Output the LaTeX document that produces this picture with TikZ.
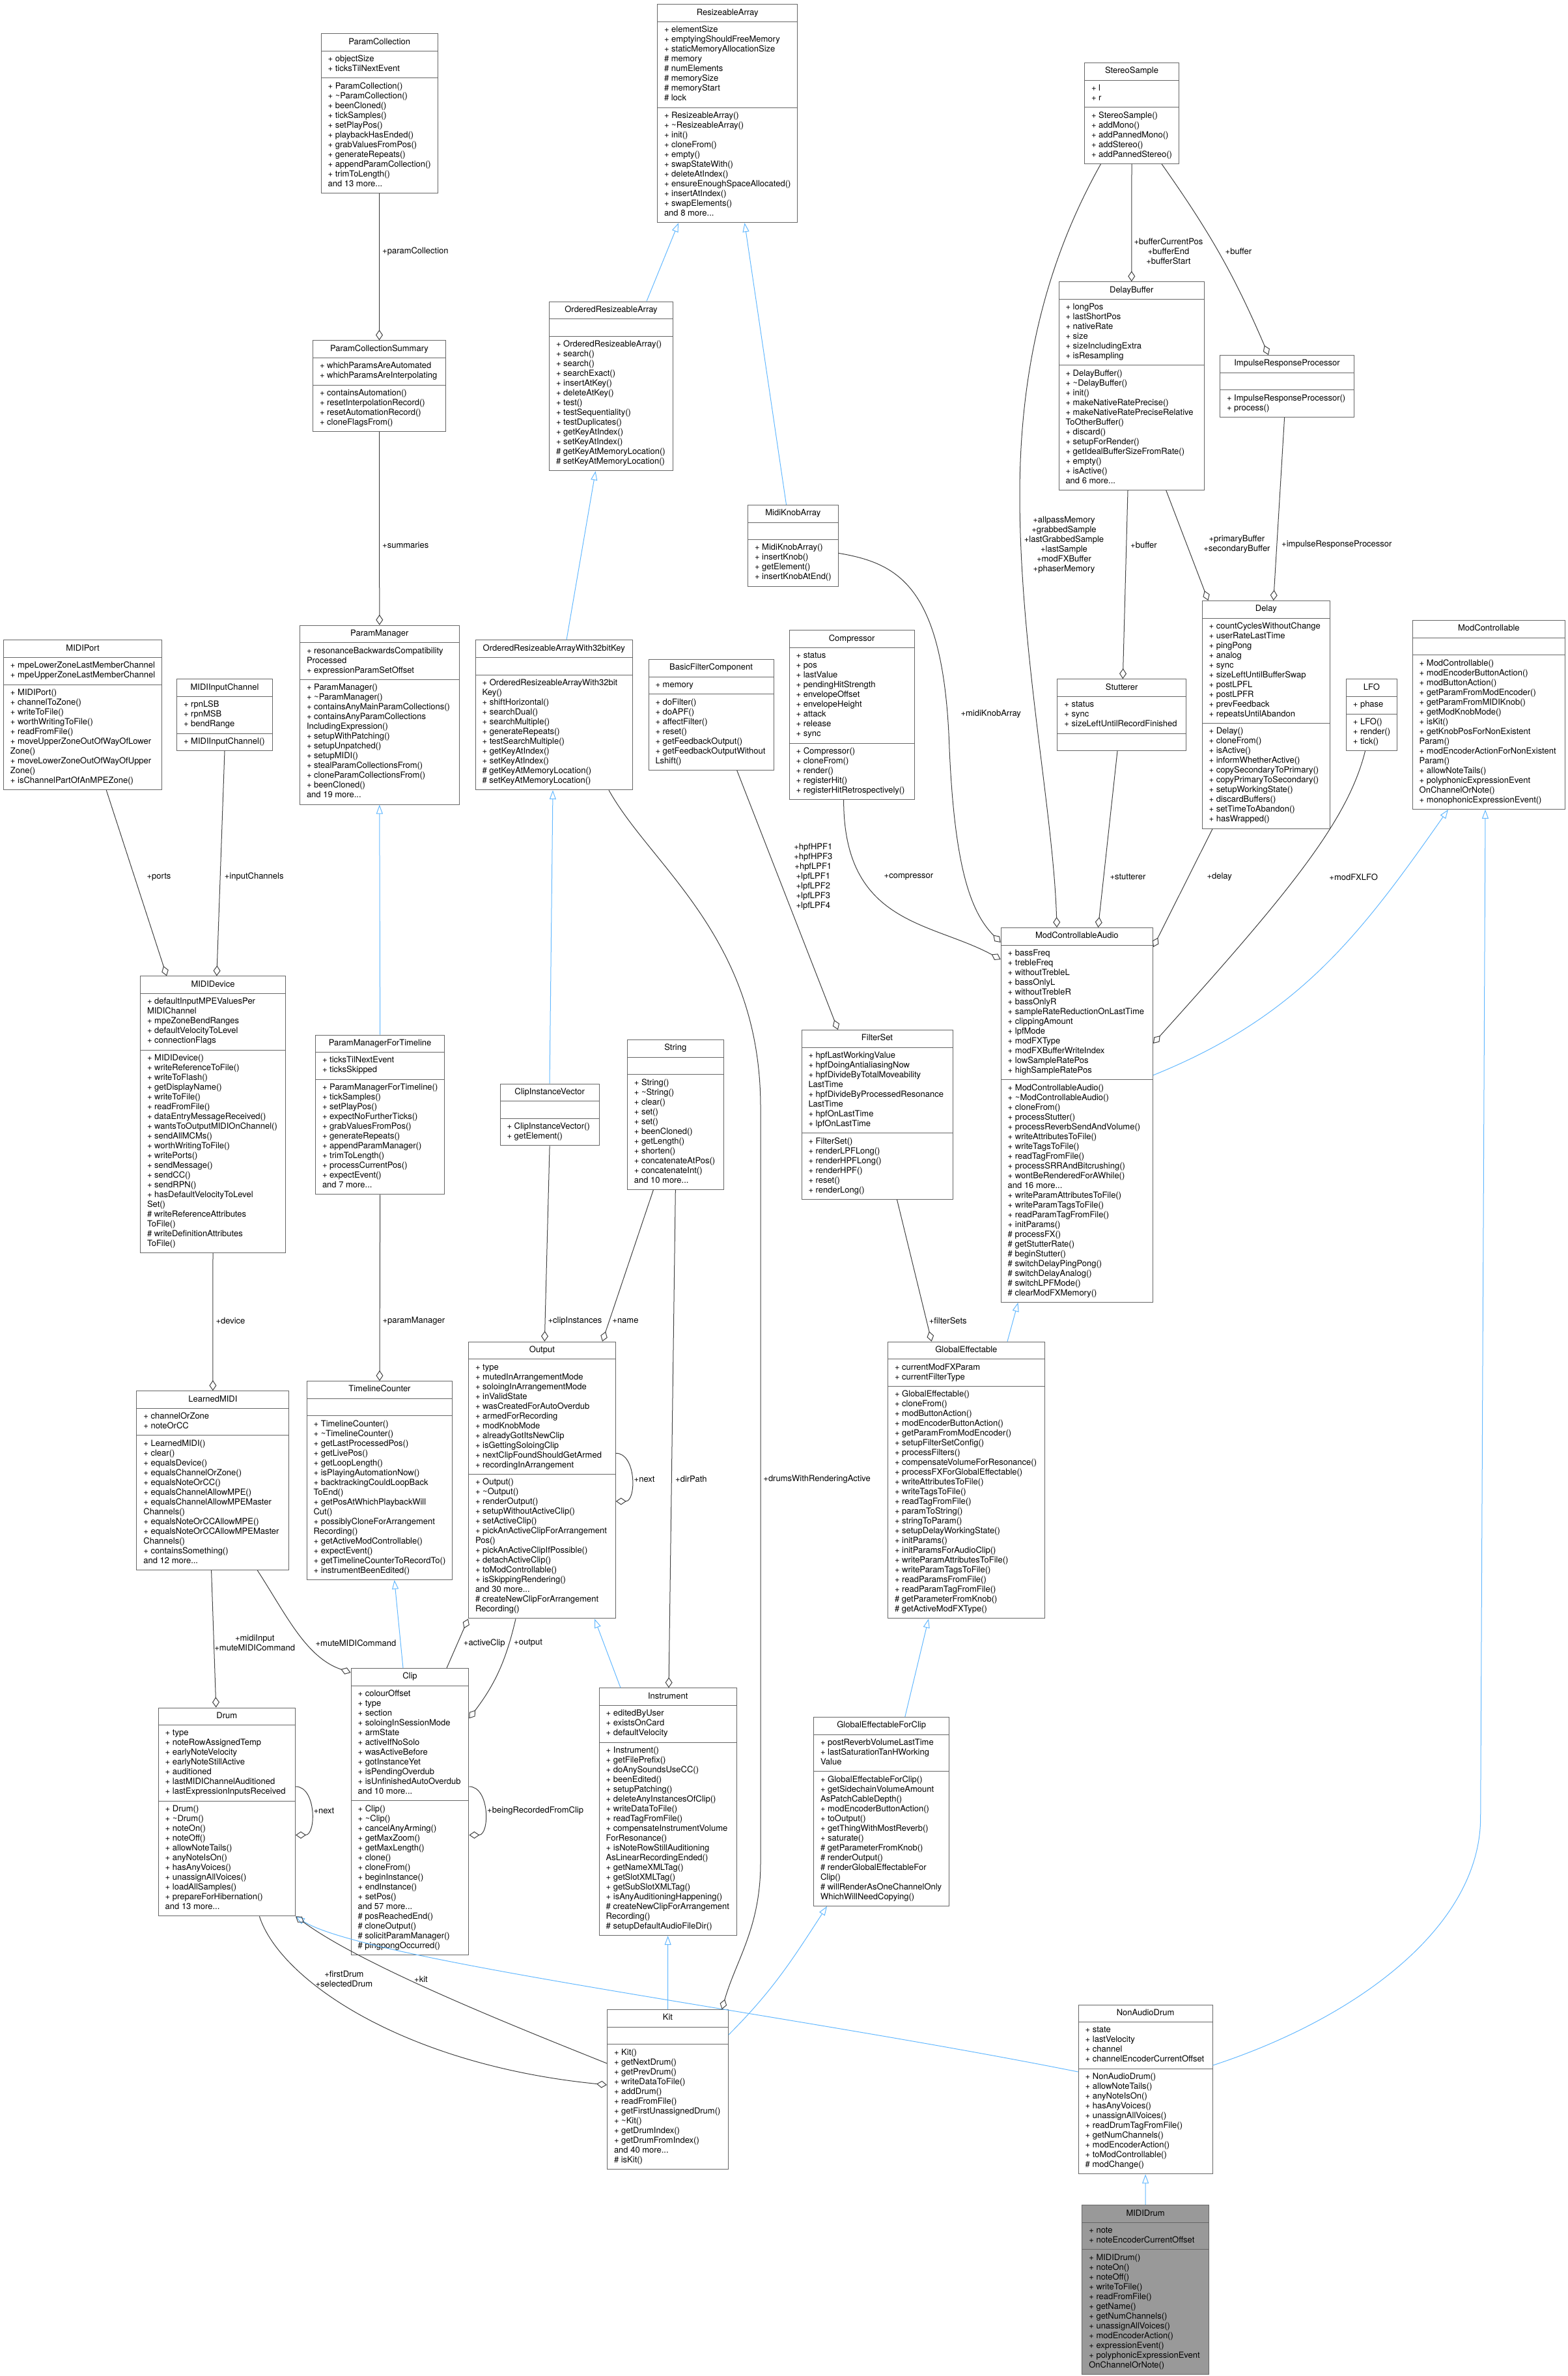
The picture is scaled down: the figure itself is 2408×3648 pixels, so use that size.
\documentclass[tikz,border=0pt]{standalone}
\usepackage{fontspec}
\setmainfont{TeX Gyre Heros}
\usetikzlibrary{shapes.multipart}
\usetikzlibrary{arrows.meta}
\definecolor{boxgray}{HTML}{666666}
\definecolor{edgegray}{HTML}{404040}
\definecolor{inheritblue}{HTML}{63B8FF}
\definecolor{curfill}{HTML}{999999}
\tikzset{
  cls/.style={rectangle split, rectangle split parts=3,
    rectangle split part align={center,left,left},
    draw=boxgray, fill=white, line width=1pt, anchor=north west,
    inner xsep=10.5pt, inner ysep=5.3pt, align=left,
    font=\fontsize{13}{15}\selectfont},
  assoc/.style={draw=edgegray, line width=1pt,
    -{Diamond[open,length=16pt,width=11pt]}},
  inherit/.style={draw=inheritblue, line width=1pt,
    -{Triangle[open,length=14pt,width=10pt]}},
  lbl/.style={font=\fontsize{13}{15}\selectfont, inner sep=0pt, align=center},
}
\begin{document}
\begin{tikzpicture}[x=1pt, y=1pt]
        \useasboundingbox (0,0) rectangle (2408,-3648);

        \node[cls, minimum width=215pt] (rArray) at (1009,-6.4) {\strut ResizeableArray\nodepart{two}\strut + elementSize\\+ emptyingShouldFreeMemory\\+ staticMemoryAllocationSize\\\# memory\\\# numElements\\\# memorySize\\\# memoryStart\\\# lock\strut\nodepart{three}\strut + ResizeableArray()\\+ \textasciitilde ResizeableArray()\\+ init()\\+ cloneFrom()\\+ empty()\\+ swapStateWith()\\+ deleteAtIndex()\\+ ensureEnoughSpaceAllocated()\\+ insertAtIndex()\\+ swapElements()\\and 8 more...\strut};
        \node[cls, minimum width=179.2pt] (pColl) at (492.6,-51.2) {\strut ParamCollection\nodepart{two}\strut + objectSize\\+ ticksTilNextEvent\strut\nodepart{three}\strut + ParamCollection()\\+ \textasciitilde ParamCollection()\\+ beenCloned()\\+ tickSamples()\\+ setPlayPos()\\+ playbackHasEnded()\\+ grabValuesFromPos()\\+ generateRepeats()\\+ appendParamCollection()\\+ trimToLength()\\and 13 more...\strut};
        \node[cls, minimum width=145pt] (stereo) at (1665,-96) {\strut StereoSample\nodepart{two}\strut + l\\+ r\strut\nodepart{three}\strut + StereoSample()\\+ addMono()\\+ addPannedMono()\\+ addStereo()\\+ addPannedStereo()\strut};
        \node[cls, minimum width=204pt] (pCollSum) at (480,-522.4) {\strut ParamCollectionSummary\nodepart{two}\strut + whichParamsAreAutomated\\+ whichParamsAreInterpolating\strut\nodepart{three}\strut + containsAutomation()\\+ resetInterpolationRecord()\\+ resetAutomationRecord()\\+ cloneFlagsFrom()\strut};
        \node[cls, minimum width=190pt] (oArray) at (843,-462.5) {\strut OrderedResizeableArray\nodepart{two}\strut\nodepart{three}\strut + OrderedResizeableArray()\\+ search()\\+ search()\\+ searchExact()\\+ insertAtKey()\\+ deleteAtKey()\\+ test()\\+ testSequentiality()\\+ testDuplicates()\\+ getKeyAtIndex()\\+ setKeyAtIndex()\\\# getKeyAtMemoryLocation()\\\# setKeyAtMemoryLocation()\strut};
        \node[cls, minimum width=138pt] (knobArray) at (1148,-774.9) {\strut MidiKnobArray\nodepart{two}\strut\nodepart{three}\strut + MidiKnobArray()\\+ insertKnob()\\+ getElement()\\+ insertKnobAtEnd()\strut};
        \node[cls, minimum width=223.5pt] (dBuffer) at (1625.5,-432.2) {\strut DelayBuffer\nodepart{two}\strut + longPos\\+ lastShortPos\\+ nativeRate\\+ size\\+ sizeIncludingExtra\\+ isResampling\strut\nodepart{three}\strut + DelayBuffer()\\+ \textasciitilde DelayBuffer()\\+ init()\\+ makeNativeRatePrecise()\\+ makeNativeRatePreciseRelative\\ToOtherBuffer()\\+ discard()\\+ setupForRender()\\+ getIdealBufferSizeFromRate()\\+ empty()\\+ isActive()\\and 6 more...\strut};
        \node[cls, minimum width=206pt] (irProc) at (1873,-545) {\strut ImpulseResponseProcessor\nodepart{two}\strut\nodepart{three}\strut + ImpulseResponseProcessor()\\+ process()\strut};
        \node[cls, minimum width=196.4pt] (delay) at (1845.6,-921.9) {\strut Delay\nodepart{two}\strut + countCyclesWithoutChange\\+ userRateLastTime\\+ pingPong\\+ analog\\+ sync\\+ sizeLeftUntilBufferSwap\\+ postLPFL\\+ postLPFR\\+ prevFeedback\\+ repeatsUntilAbandon\strut\nodepart{three}\strut + Delay()\\+ cloneFrom()\\+ isActive()\\+ informWhetherActive()\\+ copySecondaryToPrimary()\\+ copyPrimaryToSecondary()\\+ setupWorkingState()\\+ discardBuffers()\\+ setTimeToAbandon()\\+ hasWrapped()\strut};
        \node[cls, minimum width=244.6pt] (pManager) at (460,-959.7) {\strut ParamManager\nodepart{two}\strut + resonanceBackwardsCompatibility\\Processed\\+ expressionParamSetOffset\strut\nodepart{three}\strut + ParamManager()\\+ \textasciitilde ParamManager()\\+ containsAnyMainParamCollections()\\+ containsAnyParamCollections\\IncludingExpression()\\+ setupWithPatching()\\+ setupUnpatched()\\+ setupMIDI()\\+ stealParamCollectionsFrom()\\+ cloneParamCollectionsFrom()\\+ beenCloned()\\and 19 more...\strut};
        \node[cls, minimum width=192pt] (compressor) at (1211.6,-967.3) {\strut Compressor\nodepart{two}\strut + status\\+ pos\\+ lastValue\\+ pendingHitStrength\\+ envelopeOffset\\+ envelopeHeight\\+ attack\\+ release\\+ sync\strut\nodepart{three}\strut + Compressor()\\+ cloneFrom()\\+ render()\\+ registerHit()\\+ registerHitRetrospectively()\strut};
        \node[cls, minimum width=234.3pt] (modCtrl) at (2168.7,-952.1) {\strut ModControllable\nodepart{two}\strut\nodepart{three}\strut + ModControllable()\\+ modEncoderButtonAction()\\+ modButtonAction()\\+ getParamFromModEncoder()\\+ getParamFromMIDIKnob()\\+ getModKnobMode()\\+ isKit()\\+ getKnobPosForNonExistent\\Param()\\+ modEncoderActionForNonExistent\\Param()\\+ allowNoteTails()\\+ polyphonicExpressionEvent\\OnChannelOrNote()\\+ monophonicExpressionEvent()\strut};
        \node[cls, minimum width=242pt] (midiPort) at (5,-982.4) {\strut MIDIPort\nodepart{two}\strut + mpeLowerZoneLastMemberChannel\\+ mpeUpperZoneLastMemberChannel\strut\nodepart{three}\strut + MIDIPort()\\+ channelToZone()\\+ writeToFile()\\+ worthWritingToFile()\\+ readFromFile()\\+ moveUpperZoneOutOfWayOfLower\\Zone()\\+ moveLowerZoneOutOfWayOfUpper\\Zone()\\+ isChannelPartOfAnMPEZone()\strut};
        \node[cls, minimum width=241.4pt] (oArray32) at (729.6,-982.4) {\strut OrderedResizeableArrayWith32bitKey\nodepart{two}\strut\nodepart{three}\strut + OrderedResizeableArrayWith32bit\\Key()\\+ shiftHorizontal()\\+ searchDual()\\+ searchMultiple()\\+ generateRepeats()\\+ testSearchMultiple()\\+ getKeyAtIndex()\\+ setKeyAtIndex()\\\# getKeyAtMemoryLocation()\\\# setKeyAtMemoryLocation()\strut};
        \node[cls, minimum width=192pt] (bFilter) at (995.5,-1012) {\strut BasicFilterComponent\nodepart{two}\strut + memory\strut\nodepart{three}\strut + doFilter()\\+ doAPF()\\+ affectFilter()\\+ reset()\\+ getFeedbackOutput()\\+ getFeedbackOutputWithout\\Lshift()\strut};
        \node[cls, minimum width=147pt] (inChannel) at (271,-1042.3) {\strut MIDIInputChannel\nodepart{two}\strut + rpnLSB\\+ rpnMSB\\+ bendRange\strut\nodepart{three}\strut + MIDIInputChannel()\strut};
        \node[cls, minimum width=197.6pt] (stutterer) at (1623.4,-1042.3) {\strut Stutterer\nodepart{two}\strut + status\\+ sync\\+ sizeLeftUntilRecordFinished\strut\nodepart{three}\strut};
        \node[cls, minimum width=78pt] (lfo) at (2066.8,-1042.3) {\strut LFO\nodepart{two}\strut + phase\strut\nodepart{three}\strut + LFO()\\+ render()\\+ tick()\strut};
        \node[cls, minimum width=233.3pt] (mcAudio) at (1536.7,-1424) {\strut ModControllableAudio\nodepart{two}\strut + bassFreq\\+ trebleFreq\\+ withoutTrebleL\\+ bassOnlyL\\+ withoutTrebleR\\+ bassOnlyR\\+ sampleRateReductionOnLastTime\\+ clippingAmount\\+ lpfMode\\+ modFXType\\+ modFXBufferWriteIndex\\+ lowSampleRatePos\\+ highSampleRatePos\strut\nodepart{three}\strut + ModControllableAudio()\\+ \textasciitilde ModControllableAudio()\\+ cloneFrom()\\+ processStutter()\\+ processReverbSendAndVolume()\\+ writeAttributesToFile()\\+ writeTagsToFile()\\+ readTagFromFile()\\+ processSRRAndBitcrushing()\\+ wontBeRenderedForAWhile()\\and 16 more...\\+ writeParamAttributesToFile()\\+ writeParamTagsToFile()\\+ readParamTagFromFile()\\+ initParams()\\\# processFX()\\\# getStutterRate()\\\# beginStutter()\\\# switchDelayPingPong()\\\# switchDelayAnalog()\\\# switchLPFMode()\\\# clearModFXMemory()\strut};
        \node[cls, minimum width=223pt] (midiDevice) at (215,-1498.4) {\strut MIDIDevice\nodepart{two}\strut + defaultInputMPEValuesPer\\MIDIChannel\\+ mpeZoneBendRanges\\+ defaultVelocityToLevel\\+ connectionFlags\strut\nodepart{three}\strut + MIDIDevice()\\+ writeReferenceToFile()\\+ writeToFlash()\\+ getDisplayName()\\+ writeToFile()\\+ readFromFile()\\+ dataEntryMessageReceived()\\+ wantsToOutputMIDIOnChannel()\\+ sendAllMCMs()\\+ worthWritingToFile()\\+ writePorts()\\+ sendMessage()\\+ sendCC()\\+ sendRPN()\\+ hasDefaultVelocityToLevel\\Set()\\\# writeReferenceAttributes\\ToFile()\\\# writeDefinitionAttributes\\ToFile()\strut};
        \node[cls, minimum width=232pt] (filterSet) at (1230.5,-1581) {\strut FilterSet\nodepart{two}\strut + hpfLastWorkingValue\\+ hpfDoingAntialiasingNow\\+ hpfDivideByTotalMoveability\\LastTime\\+ hpfDivideByProcessedResonance\\LastTime\\+ hpfOnLastTime\\+ lpfOnLastTime\strut\nodepart{three}\strut + FilterSet()\\+ renderLPFLong()\\+ renderHPFLong()\\+ renderHPF()\\+ reset()\\+ renderLong()\strut};
        \node[cls, minimum width=197pt] (pmTimeline) at (484,-1588.5) {\strut ParamManagerForTimeline\nodepart{two}\strut + ticksTilNextEvent\\+ ticksSkipped\strut\nodepart{three}\strut + ParamManagerForTimeline()\\+ tickSamples()\\+ setPlayPos()\\+ expectNoFurtherTicks()\\+ grabValuesFromPos()\\+ generateRepeats()\\+ appendParamManager()\\+ trimToLength()\\+ processCurrentPos()\\+ expectEvent()\\and 7 more...\strut};
        \node[cls, minimum width=148pt] (string) at (962.8,-1596) {\strut String\nodepart{two}\strut\nodepart{three}\strut + String()\\+ \textasciitilde String()\\+ clear()\\+ set()\\+ set()\\+ beenCloned()\\+ getLength()\\+ shorten()\\+ concatenateAtPos()\\+ concatenateInt()\\and 10 more...\strut};
        \node[cls, minimum width=152.2pt] (clipVector) at (767.5,-1663.6) {\strut ClipInstanceVector\nodepart{two}\strut\nodepart{three}\strut + ClipInstanceVector()\\+ getElement()\strut};
        \node[cls, minimum width=225.8pt] (output) at (719,-2059.6) {\strut Output\nodepart{two}\strut + type\\+ mutedInArrangementMode\\+ soloingInArrangementMode\\+ inValidState\\+ wasCreatedForAutoOverdub\\+ armedForRecording\\+ modKnobMode\\+ alreadyGotItsNewClip\\+ isGettingSoloingClip\\+ nextClipFoundShouldGetArmed\\+ recordingInArrangement\strut\nodepart{three}\strut + Output()\\+ \textasciitilde Output()\\+ renderOutput()\\+ setupWithoutActiveClip()\\+ setActiveClip()\\+ pickAnActiveClipForArrangement\\Pos()\\+ pickAnActiveClipIfPossible()\\+ detachActiveClip()\\+ toModControllable()\\+ isSkippingRendering()\\and 30 more...\\\# createNewClipForArrangement\\Recording()\strut};
        \node[cls, minimum width=240.8pt] (gEffectable) at (1363,-2059.6) {\strut GlobalEffectable\nodepart{two}\strut + currentModFXParam\\+ currentFilterType\strut\nodepart{three}\strut + GlobalEffectable()\\+ cloneFrom()\\+ modButtonAction()\\+ modEncoderButtonAction()\\+ getParamFromModEncoder()\\+ setupFilterSetConfig()\\+ processFilters()\\+ compensateVolumeForResonance()\\+ processFXForGlobalEffectable()\\+ writeAttributesToFile()\\+ writeTagsToFile()\\+ readTagFromFile()\\+ paramToString()\\+ stringToParam()\\+ setupDelayWorkingState()\\+ initParams()\\+ initParamsForAudioClip()\\+ writeParamAttributesToFile()\\+ writeParamTagsToFile()\\+ readParamsFromFile()\\+ readParamTagFromFile()\\\# getParameterFromKnob()\\\# getActiveModFXType()\strut};
        \node[cls, minimum width=223.7pt] (tCounter) at (470.6,-2120.1) {\strut TimelineCounter\nodepart{two}\strut\nodepart{three}\strut + TimelineCounter()\\+ \textasciitilde TimelineCounter()\\+ getLastProcessedPos()\\+ getLivePos()\\+ getLoopLength()\\+ isPlayingAutomationNow()\\+ backtrackingCouldLoopBack\\ToEnd()\\+ getPosAtWhichPlaybackWill\\Cut()\\+ possiblyCloneForArrangement\\Recording()\\+ getActiveModControllable()\\+ expectEvent()\\+ getTimelineCounterToRecordTo()\\+ instrumentBeenEdited()\strut};
        \node[cls, minimum width=234pt] (learnedMidi) at (209.4,-2135.2) {\strut LearnedMIDI\nodepart{two}\strut + channelOrZone\\+ noteOrCC\strut\nodepart{three}\strut + LearnedMIDI()\\+ clear()\\+ equalsDevice()\\+ equalsChannelOrZone()\\+ equalsNoteOrCC()\\+ equalsChannelAllowMPE()\\+ equalsChannelAllowMPEMaster\\Channels()\\+ equalsNoteOrCCAllowMPE()\\+ equalsNoteOrCCAllowMPEMaster\\Channels()\\+ containsSomething()\\and 12 more...\strut};
        \node[cls, minimum width=180.8pt] (clip) at (538.6,-2561) {\strut Clip\nodepart{two}\strut + colourOffset\\+ type\\+ section\\+ soloingInSessionMode\\+ armState\\+ activeIfNoSolo\\+ wasActiveBefore\\+ gotInstanceYet\\+ isPendingOverdub\\+ isUnfinishedAutoOverdub\\and 10 more...\strut\nodepart{three}\strut + Clip()\\+ \textasciitilde Clip()\\+ cancelAnyArming()\\+ getMaxZoom()\\+ getMaxLength()\\+ clone()\\+ cloneFrom()\\+ beginInstance()\\+ endInstance()\\+ setPos()\\and 57 more...\\\# posReachedEnd()\\\# cloneOutput()\\\# solicitParamManager()\\\# pingpongOccurred()\strut};
        \node[cls, minimum width=211pt] (instrument) at (919.7,-2591.3) {\strut Instrument\nodepart{two}\strut + editedByUser\\+ existsOnCard\\+ defaultVelocity\strut\nodepart{three}\strut + Instrument()\\+ getFilePrefix()\\+ doAnySoundsUseCC()\\+ beenEdited()\\+ setupPatching()\\+ deleteAnyInstancesOfClip()\\+ writeDataToFile()\\+ readTagFromFile()\\+ compensateInstrumentVolume\\ForResonance()\\+ isNoteRowStillAuditioning\\AsLinearRecordingEnded()\\+ getNameXMLTag()\\+ getSlotXMLTag()\\+ getSubSlotXMLTag()\\+ isAnyAuditioningHappening()\\\# createNewClipForArrangement\\Recording()\\\# setupDefaultAudioFileDir()\strut};
        \node[cls, minimum width=210.3pt] (drum) at (242.7,-2621.5) {\strut Drum\nodepart{two}\strut + type\\+ noteRowAssignedTemp\\+ earlyNoteVelocity\\+ earlyNoteStillActive\\+ auditioned\\+ lastMIDIChannelAuditioned\\+ lastExpressionInputsReceived\strut\nodepart{three}\strut + Drum()\\+ \textasciitilde Drum()\\+ noteOn()\\+ noteOff()\\+ allowNoteTails()\\+ anyNoteIsOn()\\+ hasAnyVoices()\\+ unassignAllVoices()\\+ loadAllSamples()\\+ prepareForHibernation()\\and 13 more...\strut};
        \node[cls, minimum width=208.4pt] (gefClip) at (1249,-2636) {\strut GlobalEffectableForClip\nodepart{two}\strut + postReverbVolumeLastTime\\+ lastSaturationTanHWorking\\Value\strut\nodepart{three}\strut + GlobalEffectableForClip()\\+ getSidechainVolumeAmount\\AsPatchCableDepth()\\+ modEncoderButtonAction()\\+ toOutput()\\+ getThingWithMostReverb()\\+ saturate()\\\# getParameterFromKnob()\\\# renderOutput()\\\# renderGlobalEffectableFor\\Clip()\\\# willRenderAsOneChannelOnly\\WhichWillNeedCopying()\strut};
        \node[cls, minimum width=186pt] (kit) at (932,-3085) {\strut Kit\nodepart{two}\strut\nodepart{three}\strut + Kit()\\+ getNextDrum()\\+ getPrevDrum()\\+ writeDataToFile()\\+ addDrum()\\+ readFromFile()\\+ getFirstUnassignedDrum()\\+ \textasciitilde Kit()\\+ getDrumIndex()\\+ getDrumFromIndex()\\and 40 more...\\\# isKit()\strut};
        \node[cls, minimum width=205.8pt] (nonAudio) at (1655.7,-3077.5) {\strut NonAudioDrum\nodepart{two}\strut + state\\+ lastVelocity\\+ channel\\+ channelEncoderCurrentOffset\strut\nodepart{three}\strut + NonAudioDrum()\\+ allowNoteTails()\\+ anyNoteIsOn()\\+ hasAnyVoices()\\+ unassignAllVoices()\\+ readDrumTagFromFile()\\+ getNumChannels()\\+ modEncoderAction()\\+ toModControllable()\\\# modChange()\strut};
        \node[cls, fill=curfill, minimum width=194.6pt] (midiDrum) at (1661.3,-3385.2) {\strut MIDIDrum\nodepart{two}\strut + note\\+ noteEncoderCurrentOffset\strut\nodepart{three}\strut + MIDIDrum()\\+ noteOn()\\+ noteOff()\\+ writeToFile()\\+ readFromFile()\\+ getName()\\+ getNumChannels()\\+ unassignAllVoices()\\+ modEncoderAction()\\+ expressionEvent()\\+ polyphonicExpressionEvent\\OnChannelOrNote()\strut};

        \draw[inherit] ([xshift=150pt]oArray.north west) to ([xshift=33pt]rArray.south west);
        \draw[inherit] ([xshift=59.5pt]knobArray.north west) to ([xshift=134.5pt]rArray.south west);
        \draw[inherit] ([xshift=140.4pt]oArray32.north west) to ([xshift=71.6pt]oArray.south west);
        \draw[inherit] ([xshift=76.5pt]clipVector.north west) to ([xshift=119.4pt]oArray32.south west);
        \draw[inherit] (pmTimeline.north) to (pManager.south);
        \draw[inherit] ([xshift=80.4pt]clip.north west) to ([xshift=135.1pt]tCounter.south west);
        \draw[inherit] ([xshift=33.3pt]instrument.north west) to ([xshift=194pt]output.south west);
        \draw[inherit] (kit.north) to (instrument.south);
        \draw[inherit] ([yshift=-39pt]kit.north east) to[out=45, in=-123] ([xshift=21pt]gefClip.south west);
        \draw[inherit] ([xshift=140.8pt]gefClip.north west) to ([xshift=63pt]gEffectable.south west);
        \draw[inherit] ([xshift=184pt]gEffectable.north west) to ([xshift=26.7pt]mcAudio.south west);
        \draw[inherit] ([yshift=-226.8pt]mcAudio.north east) to[out=22, in=-125] ([xshift=55.3pt]modCtrl.south west);
        \draw[inherit] ([yshift=-93.5pt]nonAudio.north east) .. controls (2080,-3100) and (2273.7,-2960) .. (2273.7,-2790) -- ([xshift=112.3pt]modCtrl.south west);
        \draw[inherit] ([yshift=-103.5pt]nonAudio.north west) .. controls (1200,-3090) and (560,-3010) .. (drum.south east);
        \draw[inherit] (midiDrum.north) to (nonAudio.south);

        \draw[assoc] (pColl.south) to (pCollSum.north);
        \draw[assoc] (pCollSum.south) to (pManager.north);
        \draw[assoc] ([xshift=158.3pt]midiPort.south west) to ([xshift=41pt]midiDevice.north west);
        \draw[assoc] (inChannel.south) to ([xshift=117.8pt]midiDevice.north west);
        \draw[assoc] (midiDevice.south) to (learnedMidi.north);
        \draw[assoc] (pmTimeline.south) to (tCounter.north);
        \draw[assoc] ([xshift=115.2pt]learnedMidi.south west) to ([xshift=89.1pt]drum.north west);
        \draw[assoc] ([xshift=185.9pt]learnedMidi.south west) .. controls (440,-2480) and (470,-2545) .. ([yshift=-7pt]clip.north west);
        \draw[assoc] (clipVector.south) to ([xshift=117.3pt]output.north west);
        \draw[assoc] ([xshift=40.6pt]string.south west) to ([xshift=206pt]output.north west);
        \draw[assoc] (string.south) to ([xshift=107.3pt]instrument.north west);
        \draw[assoc] ([yshift=-171.6pt]output.north east) to[out=0, in=0, looseness=1.1] ([yshift=-245.4pt]output.north east);
        \draw[assoc] ([xshift=205.4pt]oArray32.south west) .. controls (1000,-1330) and (1168,-1440) .. (1168,-1700) -- (1168,-2860) .. controls (1168,-2960) and (1130,-3010) .. ([xshift=176.7pt]kit.north west);
        \draw[assoc] ([xshift=73pt]output.south west) to[bend left=12] ([yshift=-77.4pt]clip.north east);
        \draw[assoc] ([xshift=147.4pt]clip.north west) to (output.south west);
        \draw[assoc] ([yshift=-182pt]clip.north east) to[out=0, in=0, looseness=1.1] ([yshift=-256.4pt]clip.north east);
        \draw[assoc] ([yshift=-121.5pt]drum.north east) to[out=0, in=0, looseness=1.1] ([yshift=-195.9pt]drum.north east);
        \draw[assoc] ([xshift=155.7pt]drum.south west) .. controls (430,-3040) and (620,-3170) .. ([yshift=-116pt]kit.north west);
        \draw[assoc] ([yshift=-83pt]kit.north west) .. controls (800,-3115) and (560,-3020) .. (drum.south east);
        \draw[assoc] ([xshift=147pt]filterSet.south west) to ([xshift=67.7pt]gEffectable.north west);
        \draw[assoc] ([xshift=136.2pt]bFilter.south west) to ([xshift=56.4pt]filterSet.north west);
        \draw[assoc] ([xshift=84pt]compressor.south west) .. controls (1295.6,-1420) and (1430,-1415) .. ([yshift=-49pt]mcAudio.north west);
        \draw[assoc] ([yshift=-74.4pt]knobArray.north east) .. controls (1380,-865) and (1450,-900) .. (1458,-1150) .. controls (1466,-1330) and (1490,-1400) .. ([yshift=-23pt]mcAudio.north west);
        \draw[assoc] ([xshift=25.5pt]stereo.south west) .. controls (1630,-360) and (1566,-520) .. (1566,-760) .. controls (1566,-1000) and (1618,-1250) .. ([xshift=86.3pt]mcAudio.north west);
        \draw[assoc] (stereo.south) to (dBuffer.north);
        \draw[assoc] ([xshift=119pt]stereo.south west) to[bend left=6] ([xshift=75pt]irProc.north west);
        \draw[assoc] ([xshift=106.5pt]dBuffer.south west) to ([xshift=100.9pt]stutterer.north west);
        \draw[assoc] ([xshift=165.3pt]dBuffer.south west) to ([xshift=9.8pt]delay.north west);
        \draw[assoc] ([xshift=99.6pt]irProc.south west) to ([xshift=110.1pt]delay.north west);
        \draw[assoc] ([xshift=92.6pt]stutterer.south west) to ([xshift=149.7pt]mcAudio.north west);
        \draw[assoc] ([xshift=16.4pt]delay.south west) to ([yshift=-30pt]mcAudio.north east);
        \draw[assoc] ([xshift=29.7pt]lfo.south west) .. controls (2070,-1260) and (1980,-1370) .. ([yshift=-178pt]mcAudio.north east);

        \node[lbl, anchor=west] (lParamColl) at (587,-385.7) {+paramCollection};
        \node[lbl, anchor=west] (lSummaries) at (587,-836.5) {+summaries};
        \node[lbl] (lBufferPos) at (1794.4,-385.7) {+bufferCurrentPos\\+bufferEnd\\+bufferStart};
        \node[lbl, anchor=west] (lBufferIr) at (1881.5,-385.7) {+buffer};
        \node[lbl] (lAllpass) at (1634,-836.3) {+allpassMemory\\+grabbedSample\\+lastGrabbedSample\\+lastSample\\+modFXBuffer\\+phaserMemory};
        \node[lbl, anchor=west] (lBufferSt) at (1736,-836.5) {+buffer};
        \node[lbl] (lPrimary) at (1899.4,-836) {+primaryBuffer\\+secondaryBuffer};
        \node[lbl, anchor=west] (lImpulse) at (1968,-836.5) {+impulseResponseProcessor};
        \node[lbl, anchor=west] (lKnobArray) at (1475.3,-1096.4) {+midiKnobArray};
        \node[lbl, anchor=west] (lPorts) at (225.3,-1346.5) {+ports};
        \node[lbl, anchor=west] (lInChannels) at (344.6,-1346.5) {+inputChannels};
        \node[lbl] (lFilters) at (1248.8,-1346.2) {+hpfHPF1\\+hpfHPF3\\+hpfLPF1\\+lpfLPF1\\+lpfLPF2\\+lpfLPF3\\+lpfLPF4};
        \node[lbl, anchor=west] (lCompressor) at (1357.5,-1346.5) {+compressor};
        \node[lbl, anchor=west] (lStutterer) at (1704.3,-1346.5) {+stutterer};
        \node[lbl, anchor=west] (lDelay) at (1853.3,-1346.5) {+delay};
        \node[lbl, anchor=west] (lModLfo) at (2041.2,-1346.5) {+modFXLFO};
        \node[lbl, anchor=west] (lDevice) at (331.3,-2028.2) {+device};
        \node[lbl, anchor=west] (lParamMan) at (587.3,-2028.2) {+paramManager};
        \node[lbl, anchor=west] (lClipInst) at (841.4,-2028.2) {+clipInstances};
        \node[lbl, anchor=west] (lName) at (940.2,-2028.2) {+name};
        \node[lbl, anchor=west] (lFilterSets) at (1426.6,-2028.2) {+filterSets};
        \node[lbl, anchor=west] (lNextOut) at (973.5,-2271.3) {+next};
        \node[lbl, anchor=west] (lDirPath) at (1037,-2271.3) {+dirPath};
        \node[lbl, anchor=west] (lDrumsRend) at (1172.2,-2271.3) {+drumsWithRenderingActive};
        \node[lbl] (lMidiInput) at (391.2,-2522) {+midiInput\\+muteMIDICommand};
        \node[lbl, anchor=west] (lMuteCmd) at (484.4,-2522.6) {+muteMIDICommand};
        \node[lbl, anchor=west] (lActiveClip) at (711.7,-2522.6) {+activeClip};
        \node[lbl, anchor=west] (lOutput) at (789,-2522.6) {+output};
        \node[lbl, anchor=west] (lNextDrum) at (481.3,-2780.2) {+next};
        \node[lbl, anchor=west] (lBeingRec) at (748,-2780.2) {+beingRecordedFromClip};
        \node[lbl] (lFirstDrum) at (528.4,-3037.9) {+firstDrum\\+selectedDrum};
        \node[lbl, anchor=west] (lKit) at (636,-3038.5) {+kit};
      \end{tikzpicture}
\end{document}
